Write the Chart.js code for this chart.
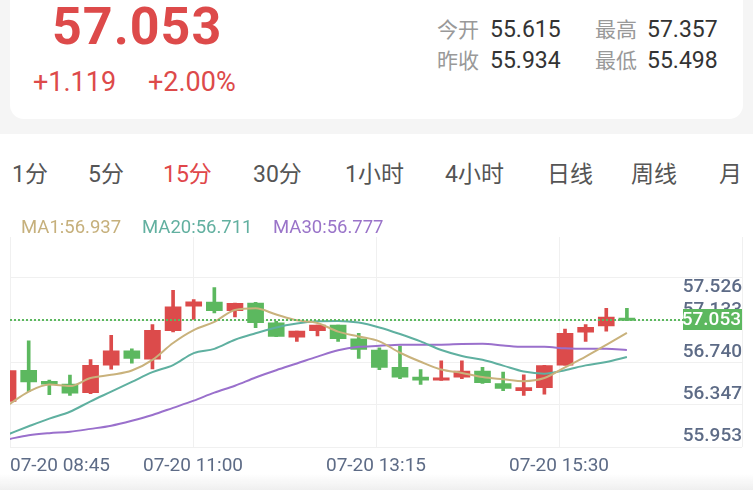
<!DOCTYPE html>
<html>
<head>
<meta charset="utf-8">
<script src="https://cdn.jsdelivr.net/npm/chart.js"></script>
<style>
  body { margin: 0; width: 753px; height: 490px; overflow: hidden; position: relative;
         background: #f5f5f5; font-family: Roboto, "Noto Sans CJK SC", sans-serif; }
  .card { position: absolute; left: 10px; top: -20px; width: 733px; height: 139px;
          background: #fff; border-radius: 14px; }
  .main { position: absolute; left: 0; top: 134px; width: 753px; height: 356px; background: #fff; }
  .fade { position: absolute; left: 0; top: 474px; width: 753px; height: 16px;
          background: linear-gradient(rgba(255,255,255,0), #efefef); }
  .abs { position: absolute; white-space: nowrap; }
  .price { left: 52px; top: 1px; font-size: 52px; line-height: 52px; font-weight: 700; color: #dd4a4a; letter-spacing: 1px; }
  .chg { top: 69px; font-size: 27px; line-height: 27px; color: #dd4a4a; }
  .lab { font-size: 21px; line-height: 21px; color: #999; }
  .val { font-size: 23px; line-height: 23px; color: #333; }
  .tab { top: 163px; font-size: 23px; line-height: 23px; color: #555; }
  .tab.on { color: #e0464a; }
  .legend { position: absolute; left: 0; top: 218px; width: 753px; height: 19px; background: #fff; }
  .legend span { position: absolute; top: 0; font-size: 18.5px; line-height: 19px; }
  canvas { position: absolute; left: 0; top: 212px; }
</style>
</head>
<body>
<div class="card"></div>
<div class="main"></div>

<div class="abs price">57.053</div>
<div class="abs chg" style="left:33px">+1.119</div>
<div class="abs chg" style="left:148px">+2.00%</div>

<div class="abs lab" style="left:437px;top:20px">今开</div>
<div class="abs val" style="left:490px;top:18px">55.615</div>
<div class="abs lab" style="left:595px;top:20px">最高</div>
<div class="abs val" style="left:647px;top:18px">57.357</div>
<div class="abs lab" style="left:437px;top:51px">昨收</div>
<div class="abs val" style="left:490px;top:49px">55.934</div>
<div class="abs lab" style="left:595px;top:51px">最低</div>
<div class="abs val" style="left:647px;top:49px">55.498</div>

<div class="abs tab" style="left:12px">1分</div>
<div class="abs tab" style="left:88px">5分</div>
<div class="abs tab on" style="left:163px">15分</div>
<div class="abs tab" style="left:253px">30分</div>
<div class="abs tab" style="left:345px">1小时</div>
<div class="abs tab" style="left:445px">4小时</div>
<div class="abs tab" style="left:547px">日线</div>
<div class="abs tab" style="left:631px">周线</div>
<div class="abs tab" style="left:719px">月</div>

<canvas id="kline" width="753" height="278"></canvas>

<div class="legend">
  <span style="left:21px;color:#c6b07c">MA1:56.937</span>
  <span style="left:142px;color:#62b0a0">MA20:56.711</span>
  <span style="left:273px;color:#9a74c9">MA30:56.777</span>
</div>
<div class="fade"></div>

<script>
  // 15 minute candles, 07-20
  const times = ['08:45','09:00','09:15','09:30','09:45','10:00','10:15','10:30','10:45','11:00',
                 '11:15','11:30','11:45','12:00','12:15','12:30','12:45','13:00','13:15','13:30',
                 '13:45','14:00','14:15','14:30','14:45','15:00','15:15','15:30','15:45','16:00','16:15'];
  const opens  = [56.298,56.588,56.485,56.458,56.379,56.636,56.769,56.690,56.957,57.186,
                  57.223,57.144,57.213,57.029,56.896,56.957,57.008,56.881,56.776,56.615,
                  56.524,56.495,56.524,56.579,56.464,56.398,56.425,56.636,56.942,57.002,57.075];
  const highs  = [56.606,56.863,56.497,56.543,56.688,56.914,56.787,57.014,57.334,57.247,
                  57.359,57.214,57.220,57.044,56.953,57.008,57.010,56.932,56.796,56.812,
                  56.594,56.676,56.676,56.615,56.570,56.545,56.634,56.971,57.014,57.165,57.165];
  const lows   = [56.280,56.388,56.361,56.352,56.370,56.597,56.654,56.600,56.944,57.062,
                  57.123,57.084,56.984,56.901,56.857,56.908,56.857,56.697,56.594,56.509,
                  56.455,56.493,56.509,56.464,56.398,56.352,56.364,56.636,56.857,56.953,57.050];
  const closes = [56.585,56.479,56.458,56.373,56.633,56.769,56.697,56.960,57.180,57.225,
                  57.144,57.211,57.032,56.903,56.953,57.008,56.881,56.781,56.615,56.524,
                  56.495,56.518,56.579,56.473,56.418,56.425,56.631,56.932,56.987,57.084,57.053];
  const ma1  = [56.262,56.388,56.455,56.440,56.515,56.545,56.585,56.685,56.842,56.962,
                57.039,57.150,57.165,57.107,57.053,57.029,56.948,56.903,56.857,56.751,
                56.667,56.594,56.563,56.524,56.504,56.486,56.515,56.615,56.715,56.824,56.937];
  const ma20 = [55.990,56.065,56.137,56.201,56.298,56.388,56.479,56.570,56.636,56.747,
                56.787,56.872,56.932,56.987,57.023,57.044,57.048,57.032,56.987,56.926,
                56.857,56.776,56.721,56.685,56.631,56.576,56.556,56.588,56.633,56.665,56.711];
  const ma30 = [55.944,55.981,56.001,56.014,56.041,56.071,56.117,56.171,56.237,56.304,
                56.379,56.443,56.520,56.588,56.651,56.715,56.774,56.806,56.815,56.826,
                56.826,56.826,56.833,56.835,56.819,56.806,56.806,56.792,56.787,56.787,56.777];
  const yTicks = [55.953, 56.347, 56.740, 57.133, 57.526];
  const lastClose = 57.053;

  const red = '#dc4b4b', green = '#5cb85f';
  const axisText = '#5d6b86', gridColor = '#f0f0f0';

  // visible window of the chart
  const xMin = 0.094, xMax = 35.58;
  const yMin = 55.872, yMax = 57.957, gridTop = 57.449;

  const upDown = ctx => closes[ctx.dataIndex] >= opens[ctx.dataIndex] ? red : green;
  const maLine = (data, color) => ({
    type: 'line', data: data.map((v, i) => ({x: i, y: v})), borderColor: color, borderWidth: 2,
    pointRadius: 0, cubicInterpolationMode: 'monotone', order: 0
  });

  const priceLine = {
    id: 'priceLine',
    afterDatasetsDraw(chart) {
      const {ctx, chartArea, scales} = chart;
      const y = Math.round(scales.y.getPixelForValue(lastClose));
      ctx.save();
      ctx.strokeStyle = green;
      ctx.lineWidth = 2;
      ctx.setLineDash([2, 2]);
      ctx.beginPath();
      ctx.moveTo(chartArea.left, y);
      ctx.lineTo(chartArea.right - 59, y);
      ctx.stroke();
      ctx.restore();
    },
    afterDraw(chart) {
      const {ctx, chartArea, scales} = chart;
      const y = Math.round(scales.y.getPixelForValue(lastClose));
      ctx.save();
      ctx.fillStyle = green;
      ctx.fillRect(chartArea.right - 59, y - 11, 59, 21);
      ctx.fillStyle = '#fff';
      ctx.font = '500 19px Roboto';
      ctx.textAlign = 'right';
      ctx.textBaseline = 'middle';
      ctx.fillText(lastClose.toFixed(3), chartArea.right - 1, y);
      ctx.restore();
    }
  };

  new Chart(document.getElementById('kline'), {
    type: 'bar',
    data: {
      datasets: [
        maLine(ma1, '#c9b27c'),
        maLine(ma20, '#5fb0a0'),
        maLine(ma30, '#9a70cc'),
        {
          label: 'body', data: opens.map((o, i) => ({x: i, y: [o, closes[i]]})),
          backgroundColor: upDown, barThickness: 16, grouped: false, minBarLength: 2, order: 1
        },
        {
          label: 'wick', data: lows.map((l, i) => ({x: i, y: [l, highs[i]]})),
          backgroundColor: upDown, barThickness: 3, grouped: false, order: 2
        }
      ]
    },
    options: {
      responsive: false,
      animation: false,
      layout: { padding: { left: 10, right: 11, top: 5, bottom: 0 } },
      plugins: { legend: { display: false }, tooltip: { enabled: false } },
      scales: {
        x: {
          type: 'linear', min: xMin, max: xMax, offset: false,
          grid: { color: gridColor, drawTicks: false, offset: false },
          border: { display: false },
          afterBuildTicks: s => { s.ticks = [0, 1, 2, 3, 4].map(k => ({value: xMin + k * (xMax - xMin) / 4})); },
          afterFit: s => { s.height = 43; },
          ticks: {
            autoSkip: false, maxRotation: 0, align: 'inner', padding: 8, color: axisText,
            font: { family: 'Roboto', size: 19 },
            callback: v => times[Math.round(v)] ? '07-20 ' + times[Math.round(v)] : ''
          }
        },
        y: {
          position: 'right', min: yMin, max: yMax,
          grid: { color: gridColor, drawTicks: false },
          border: { display: false },
          ticks: { display: false },
          afterBuildTicks: s => {
            const step = (gridTop - yMin) / 4;
            s.ticks = [0, 1, 2, 3, 4].map(k => ({value: yMin + k * step})).concat([{value: yMax}]);
          }
        },
        yl: {
          position: 'right', min: yMin, max: yMax,
          grid: { display: false, drawTicks: false },
          border: { display: false },
          afterBuildTicks: s => { s.ticks = yTicks.map(v => ({value: Math.min(v, gridTop - 0.11)})); },
          ticks: {
            mirror: true, padding: 0, autoSkip: false, labelOffset: -2, color: axisText,
            font: { family: 'Roboto', size: 19, weight: '500' },
            callback: (v, i) => yTicks[i].toFixed(3)
          }
        }
      }
    },
    plugins: [priceLine]
  });
</script>
</body>
</html>
